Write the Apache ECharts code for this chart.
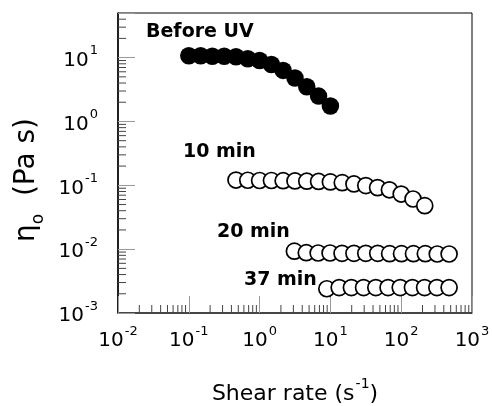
<!DOCTYPE html>
<html>
<head>
<meta charset="utf-8">
<script src="https://cdn.jsdelivr.net/npm/echarts@6/dist/echarts.min.js"></script>
<style>
html,body{margin:0;padding:0;background:#fff;}
#c{width:492px;height:406px;}
</style>
</head>
<body>
<div id="c"></div>
<script>
// ---- data ----
const beforeUvX = [0.1, 0.147, 0.215, 0.316, 0.464, 0.681, 1, 1.47, 2.15, 3.16, 4.64, 6.81, 10];
const beforeUvY = [10.7, 10.7, 10.5, 10.5, 10.3, 9.6, 9.0, 7.8, 6.3, 4.8, 3.5, 2.5, 1.75];

const min10X = [0.464, 0.681, 1, 1.47, 2.15, 3.16, 4.64, 6.81, 10, 14.7, 21.5, 31.6, 46.4, 68.1, 100, 147, 215];
const min10Y = [0.121, 0.120, 0.119, 0.119, 0.118, 0.117, 0.116, 0.115, 0.113, 0.110, 0.105, 0.099, 0.092, 0.085, 0.073, 0.061, 0.048];

const min20X = [3.1, 4.56, 6.71, 9.89, 14.6, 21.5, 31.6, 46.6, 68.6, 101, 149, 219, 323, 475];
const min20Y = [0.0093, 0.0088, 0.0087, 0.0087, 0.0086, 0.0086, 0.0086, 0.0086, 0.0085, 0.0085, 0.0085, 0.0085, 0.0084, 0.0084];

const min37X = [8.9, 13.3, 19.8, 29.4, 43.8, 65.2, 96.8, 144, 214, 319, 475];
const min37Y = [0.0024, 0.0025, 0.0025, 0.0025, 0.0025, 0.0025, 0.0025, 0.0025, 0.0025, 0.0025, 0.0025];

const xTickValues = [0.01, 0.1, 1, 10, 100, 1000];
const xTickExponents = ['-2', '-1', '0', '1', '2', '3'];
const yTickValues = [0.001, 0.01, 0.1, 1, 10];
const yTickExponents = ['-3', '-2', '-1', '0', '1'];

const seriesLabels = ['Before UV', '10 min', '20 min', '37 min'];

// ---- axis decoration ----
const X_MIN = 0.01, X_MAX = 1000, Y_MIN = 0.001, Y_MAX = 50;
const xMinor = [];
for (let d = 0.01; d < 999; d *= 10) for (let m = 2; m <= 9; m++) xMinor.push(+(d * m).toPrecision(3));
const yMinor = [];
for (let d = 0.001; d < 11; d *= 10) for (let m = 2; m <= 9; m++) { const v = +(d * m).toPrecision(3); if (v < Y_MAX) yMinor.push(v); }

function pairs(xs, ys) { return xs.map((x, i) => [x, ys[i]]); }
function expLabel(values, exps) {
  return function (v) {
    for (let i = 0; i < values.length; i++) {
      if (Math.abs(values[i] - v) / values[i] < 1e-6) return '{b|10}{s|' + exps[i] + '}';
    }
    return '';
  };
}
const richTick = {
  b: { fontFamily: 'DejaVu Sans', fontSize: 20, color: '#000', lineHeight: 26, verticalAlign: 'bottom' },
  s: { fontFamily: 'DejaVu Sans', fontSize: 13, color: '#000', lineHeight: 26, verticalAlign: 'top', padding: [0, 0, 8, 1] }
};

const chart = echarts.init(document.getElementById('c'), null, { renderer: 'canvas' });
const option = {
  animation: false,
  backgroundColor: '#fff',
  grid: { left: 118, right: 20, top: 13, bottom: 93, show: true, borderColor: '#000', borderWidth: 1, containLabel: false, outerBoundsMode: 'none' },
  xAxis: {
    type: 'log', logBase: 10, min: X_MIN, max: X_MAX,
    splitLine: { show: false },
    axisLine: { lineStyle: { color: '#333', width: 1.5 } },
    axisTick: { inside: true, length: 17, lineStyle: { color: '#999', width: 1 } },
    axisLabel: { margin: 12, formatter: expLabel(xTickValues, xTickExponents), rich: richTick },
    name: '{n|Shear rate (s}{s|-1}{n|)}',
    nameLocation: 'middle', nameGap: 64,
    nameTextStyle: {
      rich: {
        n: { fontFamily: 'DejaVu Sans', fontSize: 22, color: '#000', lineHeight: 28, verticalAlign: 'bottom' },
        s: { fontFamily: 'DejaVu Sans', fontSize: 14, color: '#000', lineHeight: 28, verticalAlign: 'top', padding: [0, 0, 10, 1] }
      }
    }
  },
  yAxis: {
    type: 'log', logBase: 10, min: Y_MIN, max: Y_MAX,
    splitLine: { show: false },
    axisLine: { lineStyle: { color: '#000', width: 1.5 } },
    axisTick: { inside: true, length: 17, lineStyle: { color: '#999', width: 1 } },
    axisLabel: { margin: 20, formatter: expLabel(yTickValues, yTickExponents), rich: richTick },
    name: '{n|η}{o|o}{n|  (Pa s)}',
    nameLocation: 'middle', nameGap: 71, nameRotate: 90,
    nameTextStyle: {
      padding: [0, 34, 0, 0],
      rich: {
        n: { fontFamily: 'DejaVu Sans', fontSize: 28, color: '#000', lineHeight: 34, verticalAlign: 'top' },
        o: { fontFamily: 'DejaVu Sans', fontSize: 17, color: '#000', lineHeight: 34, verticalAlign: 'bottom', padding: [6, 0, 0, 0] }
      }
    }
  },
  series: [
    {
      type: 'custom', silent: true, clip: false, z: 1,
      data: xMinor.map(v => [v, Y_MIN]),
      renderItem: function (params, api) {
        const p = api.coord([api.value(0), api.value(1)]);
        return { type: 'line', shape: { x1: p[0], y1: p[1], x2: p[0], y2: p[1] - 8 }, style: { stroke: '#444', lineWidth: 1 } };
      }
    },
    {
      type: 'custom', silent: true, clip: false, z: 1,
      data: yMinor.map(v => [X_MIN, v]),
      renderItem: function (params, api) {
        const p = api.coord([api.value(0), api.value(1)]);
        return { type: 'line', shape: { x1: p[0], y1: p[1], x2: p[0] + 8, y2: p[1] }, style: { stroke: '#444', lineWidth: 1 } };
      }
    },
    {
      name: seriesLabels[0], type: 'scatter', z: 3, symbol: 'circle', symbolSize: 17.5,
      itemStyle: { color: '#000', opacity: 1 },
      data: pairs(beforeUvX, beforeUvY)
    },
    {
      name: seriesLabels[1], type: 'scatter', z: 3, symbol: 'circle', symbolSize: 16,
      itemStyle: { color: '#fff', borderColor: '#000', borderWidth: 1.7, opacity: 1 },
      data: pairs(min10X, min10Y)
    },
    {
      name: seriesLabels[2], type: 'scatter', z: 3, symbol: 'circle', symbolSize: 16,
      itemStyle: { color: '#fff', borderColor: '#000', borderWidth: 1.7, opacity: 1 },
      data: pairs(min20X, min20Y)
    },
    {
      name: seriesLabels[3], type: 'scatter', z: 3, symbol: 'circle', symbolSize: 16,
      itemStyle: { color: '#fff', borderColor: '#000', borderWidth: 1.7, opacity: 1 },
      data: pairs(min37X, min37Y)
    }
  ],
  graphic: [
    { type: 'text', x: 146, y: 32, style: { text: seriesLabels[0], font: 'bold 19px "DejaVu Sans"', fill: '#000', textVerticalAlign: 'middle' } },
    { type: 'text', x: 183, y: 152, style: { text: seriesLabels[1], font: 'bold 19px "DejaVu Sans"', fill: '#000', textVerticalAlign: 'middle' } },
    { type: 'text', x: 217, y: 232, style: { text: seriesLabels[2], font: 'bold 19px "DejaVu Sans"', fill: '#000', textVerticalAlign: 'middle' } },
    { type: 'text', x: 244, y: 280, style: { text: seriesLabels[3], font: 'bold 19px "DejaVu Sans"', fill: '#000', textVerticalAlign: 'middle' } }
  ]
};
chart.setOption(option);
</script>
</body>
</html>
